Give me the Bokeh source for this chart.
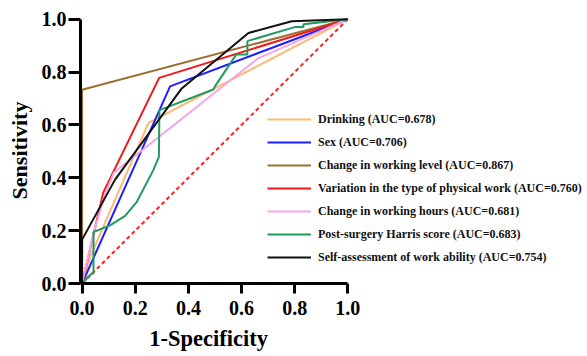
from bokeh.plotting import figure
from bokeh.models import Range1d, FixedTicker, NumeralTickFormatter, Legend, LegendItem, LinearAxis
from bokeh.embed import file_html
from bokeh.resources import INLINE

# ROC curve data (1-Specificity, Sensitivity)
drinking_x = [0.0, 0.03, 0.25, 1.0]
drinking_y = [0.0, 0.10, 0.608, 1.0]

sex_x = [0.0, 0.331, 1.0]
sex_y = [0.0, 0.746, 1.0]

level_x = [0.0, 0.0, 1.0]
level_y = [0.0, 0.733, 1.0]

variation_x = [0.0, 0.08, 0.29, 1.0]
variation_y = [0.0, 0.345, 0.778, 1.0]

hours_x = [0.0, 0.043, 0.087, 0.12, 0.664, 1.0]
hours_y = [0.0, 0.19, 0.34, 0.42, 0.853, 1.0]

harris_x = [0.0, 0.036, 0.043, 0.043, 0.105, 0.162, 0.206, 0.268, 0.289, 0.291, 0.494, 0.50, 0.58, 0.622, 0.622, 0.80, 0.833, 0.833, 1.0]
harris_y = [0.0, 0.038, 0.038, 0.195, 0.22, 0.256, 0.309, 0.429, 0.479, 0.656, 0.734, 0.746, 0.866, 0.866, 0.917, 0.97, 0.97, 0.981, 1.0]

self_x = [0.0, 0.0, 0.124, 0.375, 0.626, 0.789, 1.0]
self_y = [0.0, 0.166, 0.393, 0.738, 0.948, 0.992, 1.0]

ref_x = [0.0, 1.0]
ref_y = [0.0, 1.0]

labels = [
    "Drinking (AUC=0.678)",
    "Sex (AUC=0.706)",
    "Change in working level (AUC=0.867)",
    "Variation in the type of physical work (AUC=0.760)",
    "Change in working hours (AUC=0.681)",
    "Post-surgery Harris score (AUC=0.683)",
    "Self-assessment of work ability (AUC=0.754)",
]
colors = ["#FFB870", "#1E1EFF", "#9C7030", "#F01818", "#F4A6E6", "#209A5E", "#111111"]
ticks = [0.0, 0.2, 0.4, 0.6, 0.8, 1.0]
x_title = "1-Specificity"
y_title = "Sensitivity"
x_title_pos = 0.476  # where the x title sits along the axis

FONT = "Liberation Serif"

# frame extends past x=1 so the legend (inside the frame) is not clipped;
# axis bounds keep the axis lines within 0..1
p = figure(width=587, height=356, output_backend="svg", toolbar_location=None,
           x_range=Range1d(-0.006, 1.902), y_range=Range1d(0, 1.0064),
           min_border_left=80, min_border_right=0, min_border_top=17, min_border_bottom=73)
p.outline_line_color = None
p.grid.visible = False
p.background_fill_color = None
p.border_fill_color = "white"

# reference diagonal
p.line(ref_x, ref_y, line_color="#FF2020", line_width=2, line_dash="4 3")

series = [
    (drinking_x, drinking_y),
    (sex_x, sex_y),
    (level_x, level_y),
    (variation_x, variation_y),
    (hours_x, hours_y),
    (harris_x, harris_y),
    (self_x, self_y),
]
renderers = []
for (xs, ys), c in zip(series, colors):
    r = p.line(xs, ys, line_color=c, line_width=2)
    renderers.append(r)

for ax in (p.xaxis[0], p.yaxis[0]):
    ax.ticker = FixedTicker(ticks=ticks)
    ax.formatter = NumeralTickFormatter(format="0.0")
    ax.axis_line_width = 3
    ax.axis_line_color = "black"
    ax.major_tick_line_width = 3
    ax.major_tick_line_color = "black"
    ax.major_tick_in = 0
    ax.minor_tick_out = 0
    ax.minor_tick_in = 0
    ax.major_label_text_font = FONT
    ax.major_label_text_font_style = "bold"
    ax.major_label_text_font_size = "20px"
    ax.major_label_text_color = "black"
    ax.axis_label_text_font = FONT
    ax.axis_label_text_font_style = "bold"
    ax.axis_label_text_font_size = "22px"
    ax.axis_label_text_color = "black"

xa = p.xaxis[0]
xa.bounds = (-0.006, 1.0)
xa.major_tick_out = 10
xa.major_label_standoff = 7

ya = p.yaxis[0]
ya.bounds = (0.0, 1.0)
ya.major_tick_out = 12
ya.major_label_standoff = 2
ya.axis_label = y_title
ya.axis_label_standoff = 7

# x-axis title, drawn as the only label of a bare second axis so it is
# centred under the 0..1 span (the frame itself is wider for the legend)
title_axis = LinearAxis(ticker=FixedTicker(ticks=[x_title_pos]),
                        major_label_overrides={x_title_pos: x_title},
                        axis_line_color=None, major_tick_line_color=None,
                        minor_tick_line_color=None, major_tick_out=0, major_tick_in=0,
                        major_label_standoff=8,
                        major_label_text_font=FONT, major_label_text_font_style="bold",
                        major_label_text_font_size="22.5px", major_label_text_color="black")
p.add_layout(title_axis, "below")

legend = Legend(items=[LegendItem(label=l, renderers=[r]) for l, r in zip(labels, renderers)],
                location=(187, 16))
legend.label_text_font = FONT
legend.label_text_font_style = "bold"
legend.label_text_font_size = "12px"
legend.label_text_color = "#111111"
legend.glyph_width = 44
legend.glyph_height = 20
legend.label_height = 20
legend.label_standoff = 7
legend.spacing = 3
legend.padding = 0
legend.margin = 0
legend.border_line_color = None
legend.background_fill_alpha = 0
p.add_layout(legend, "center")

open("out.html", "w").write(file_html(p, INLINE))
